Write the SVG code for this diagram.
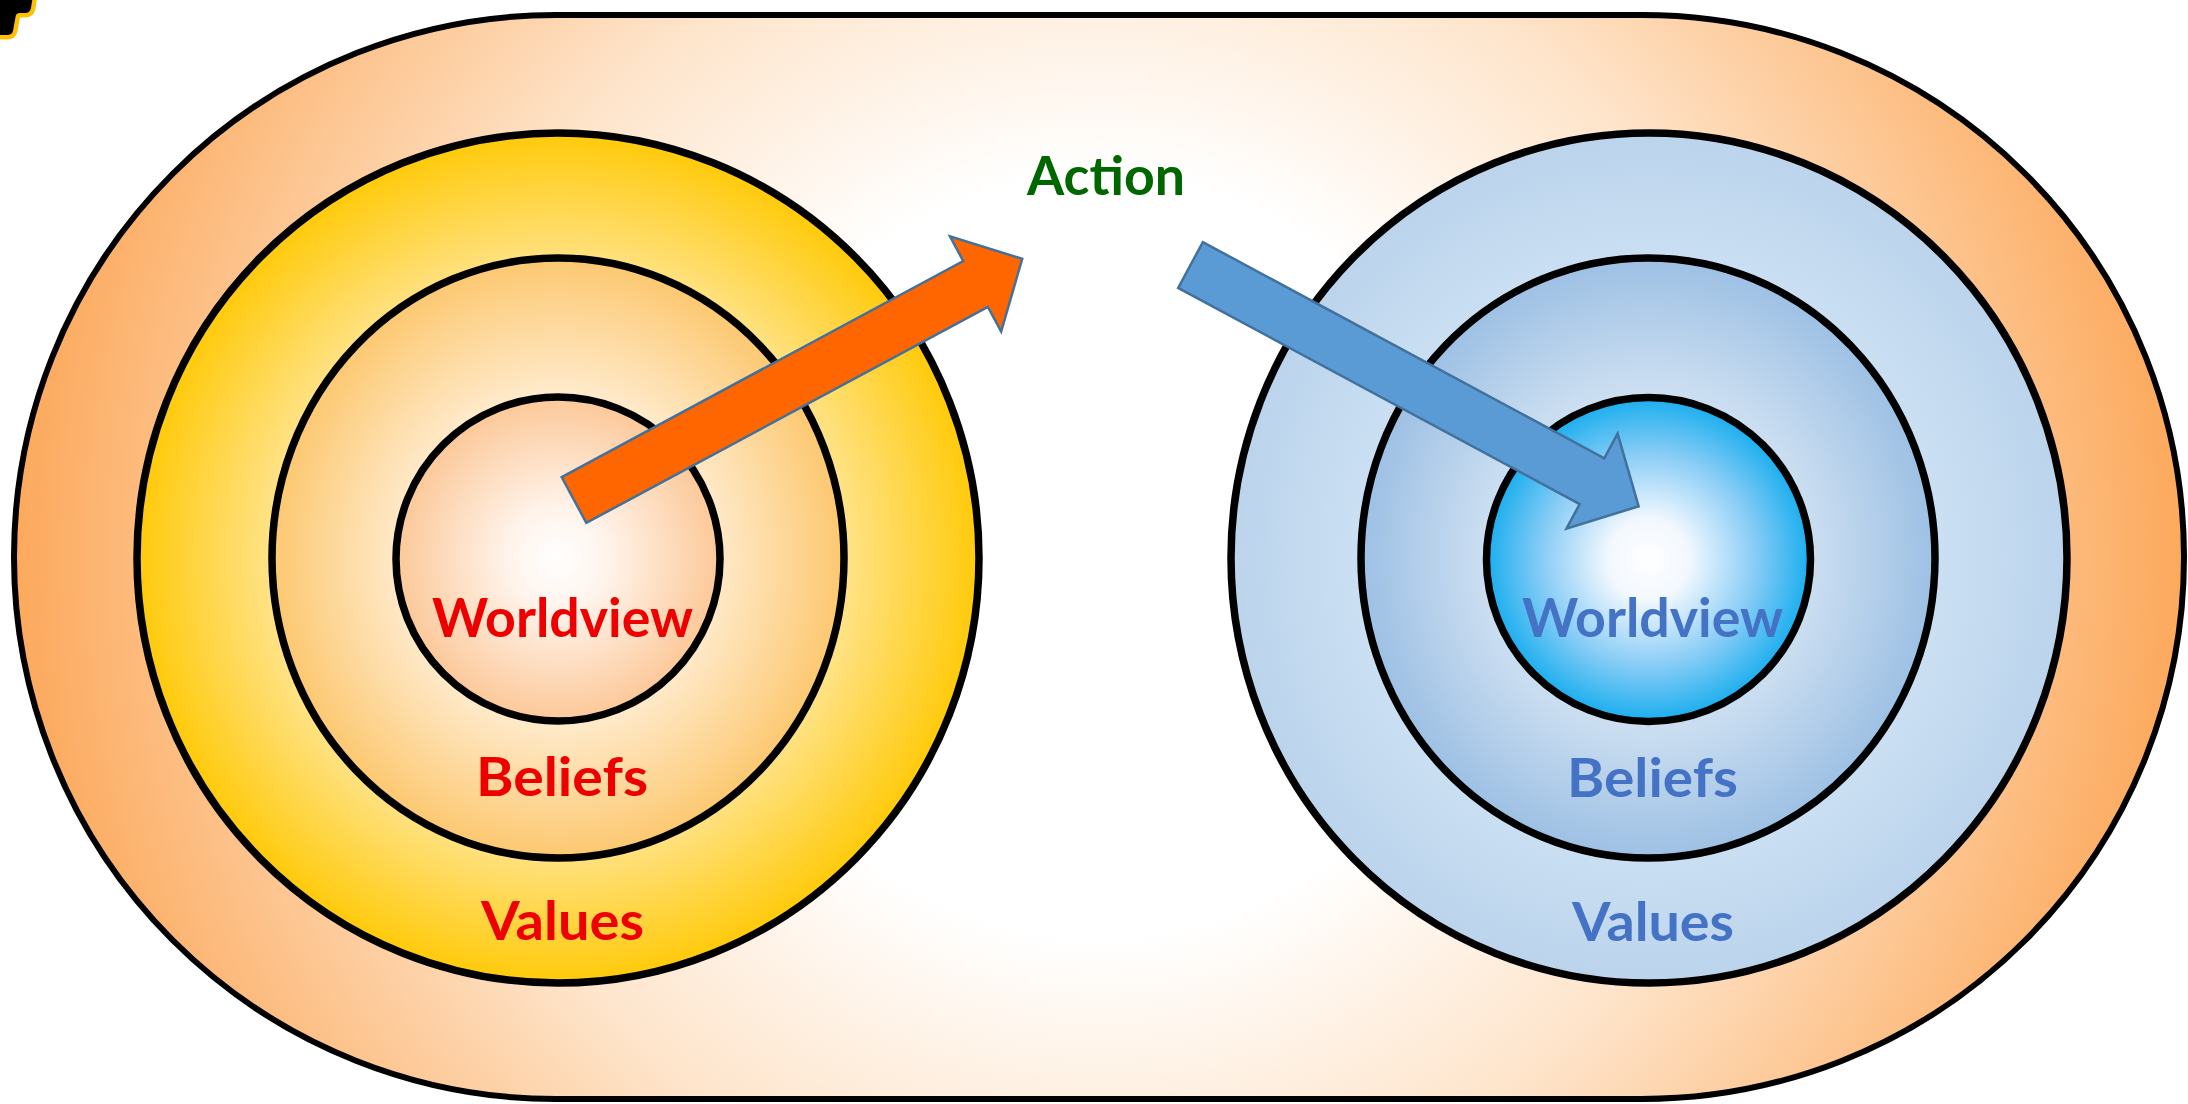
<svg xmlns="http://www.w3.org/2000/svg" width="2188" height="1104" viewBox="0 0 2188 1104">
<style>
.ring{stroke:#000;stroke-width:7.5}
.lbl{font-family:"Comic Sans MS","Lato","DejaVu Sans",sans-serif;font-weight:bold;font-size:54px}
.red{fill:#EE0000}
.blue{fill:#4472C4}
.arrow{stroke:#41719C;stroke-width:2.5;stroke-linejoin:miter}
</style>
<defs>
<radialGradient id="gBand" gradientUnits="userSpaceOnUse" cx="1099" cy="557" r="1085">
<stop offset="0" stop-color="#FFFFFF"/>
<stop offset="0.35" stop-color="#FFFFFF"/>
<stop offset="0.62" stop-color="#FEE4CA"/>
<stop offset="1" stop-color="#FCA95C"/>
</radialGradient>
<radialGradient id="gY1" cx="50%" cy="50%" r="50%">
<stop offset="0" stop-color="#FFFFFF"/>
<stop offset="0.6" stop-color="#FFE9A8"/>
<stop offset="1" stop-color="#FFCA0A"/>
</radialGradient>
<radialGradient id="gY2" cx="50%" cy="50%" r="50%">
<stop offset="0" stop-color="#FFFFFF"/>
<stop offset="0.55" stop-color="#FFEACB"/>
<stop offset="1" stop-color="#FCC870"/>
</radialGradient>
<radialGradient id="gY3" cx="50%" cy="50%" r="50%">
<stop offset="0" stop-color="#FFFFFF"/>
<stop offset="0.3" stop-color="#FFF4EC"/>
<stop offset="1" stop-color="#FCC898"/>
</radialGradient>
<radialGradient id="gB1" cx="50%" cy="50%" r="50%">
<stop offset="0" stop-color="#DCEAF7"/>
<stop offset="0.7" stop-color="#CADFF2"/>
<stop offset="1" stop-color="#BBD4EC"/>
</radialGradient>
<radialGradient id="gB2" cx="50%" cy="50%" r="50%">
<stop offset="0" stop-color="#FFFFFF"/>
<stop offset="0.6" stop-color="#C8DCF0"/>
<stop offset="1" stop-color="#9DC0E4"/>
</radialGradient>
<radialGradient id="gB3" cx="50%" cy="50%" r="50%">
<stop offset="0" stop-color="#FFFFFF"/>
<stop offset="0.25" stop-color="#F2F8FE"/>
<stop offset="0.65" stop-color="#8ACDF6"/>
<stop offset="1" stop-color="#1AAEEE"/>
</radialGradient>
</defs>

<g id="corner-mark">
<path d="M-5,-5 L33,-5 L31,8 Q30,13 25,13 L20,13 Q16,13 15.5,17 L13,31 Q12,35 7,35 L-5,35 Z" fill="#000" stroke="#FFC000" stroke-width="9" stroke-linejoin="round" paint-order="stroke"/>
</g>

<g id="band">
<path d="M556,15 L1642,15 A542,542 0 0 1 1642,1099 L556,1099 A542,542 0 0 1 556,15 Z" fill="url(#gBand)" stroke="#000" stroke-width="6"/>
</g>

<g id="left-values">
<ellipse cx="558" cy="558" rx="421" ry="425" fill="url(#gY1)" class="ring"/>
<text class="lbl red" x="481" y="940" textLength="163" lengthAdjust="spacingAndGlyphs">Values</text>
</g>
<g id="left-beliefs">
<ellipse cx="558" cy="558" rx="286" ry="300" fill="url(#gY2)" class="ring"/>
<text class="lbl red" x="476" y="796" textLength="172" lengthAdjust="spacingAndGlyphs">Beliefs</text>
</g>
<g id="left-worldview">
<circle cx="558" cy="559" r="162" fill="url(#gY3)" class="ring"/>
<text class="lbl red" x="432" y="637" textLength="261" lengthAdjust="spacingAndGlyphs">Worldview</text>
</g>

<g id="right-values">
<ellipse cx="1649" cy="558" rx="418" ry="425" fill="url(#gB1)" class="ring"/>
<text class="lbl blue" x="1572" y="941" textLength="162" lengthAdjust="spacingAndGlyphs">Values</text>
</g>
<g id="right-beliefs">
<ellipse cx="1648" cy="558" rx="287" ry="300" fill="url(#gB2)" class="ring"/>
<text class="lbl blue" x="1567" y="797" textLength="171" lengthAdjust="spacingAndGlyphs">Beliefs</text>
</g>
<g id="right-worldview">
<circle cx="1648.5" cy="559.5" r="162" fill="url(#gB3)" class="ring"/>
<text class="lbl blue" x="1522" y="637" textLength="261" lengthAdjust="spacingAndGlyphs">Worldview</text>
</g>

<g id="action">
<text class="lbl" fill="#006600" x="1027" y="195" textLength="158" lengthAdjust="spacingAndGlyphs">Action</text>
</g>

<g id="connectors">
<polygon class="arrow" fill="#FF6600" points="0,-26 456,-26 456,-54 509,0 456,54 456,26 0,26" transform="translate(574 500) rotate(-28.28)"/>
<polygon class="arrow" fill="#5B9BD5" points="0,-26 456,-26 456,-54 509,0 456,54 456,26 0,26" transform="translate(1190.5 265) rotate(28.3)"/>
</g>
</svg>
